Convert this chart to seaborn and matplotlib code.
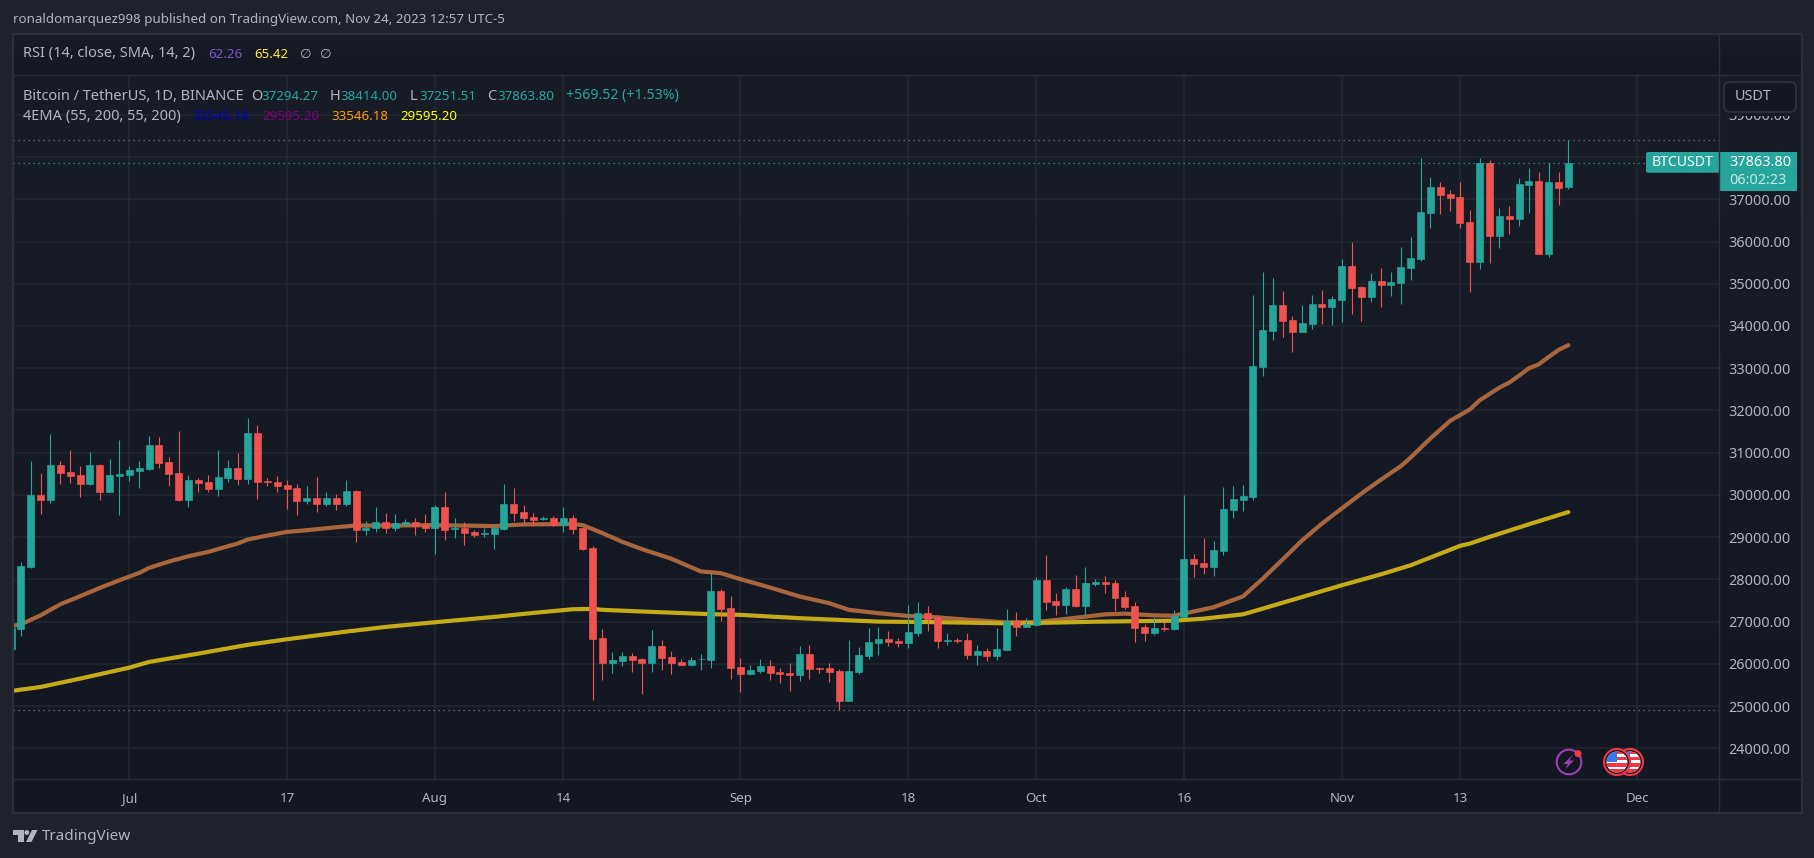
import matplotlib
matplotlib.use('Agg')
import matplotlib.pyplot as plt
import matplotlib.dates as mdates
from matplotlib.colors import LinearSegmentedColormap
from matplotlib.patches import Circle, FancyBboxPatch, Polygon, Rectangle
import numpy as np
import pandas as pd
import seaborn as sns

# daily candles, 19 Jun - 24 Nov 2023
first_day = '2023-06-19'
candle_open = [
    26340, 26818, 28287, 29993, 29875, 30705, 30539, 30467, 30254, 30705, 30065, 30444,
    30467, 30562, 30610, 31179, 30776, 30515, 29875, 30349, 30302, 30136, 30396, 30633, 30373, 31463, 30325, 30302,
    30230, 30159, 29851, 29922, 29780, 29922, 29780, 30088, 29164, 29211, 29354, 29211, 29306, 29354, 29282,
    29211, 29709, 29183, 29206, 29112, 29072, 29064, 29183, 29775, 29586, 29467, 29420, 29443, 29277, 29443, 29206,
    28732, 26623, 26031, 26078, 26197, 26125, 26031, 26434, 26173, 26054, 25983, 26110, 26102, 27713, 27311,
    25936, 25770, 25841, 25960, 25817, 25794, 25746, 26244, 25912, 25912, 25841, 25130, 25817, 26197, 26501,
    26595, 26548, 26501, 26738, 27212, 27117, 26548, 26572, 26572, 26216, 26311, 26193, 26335, 27022, 26880,
    26927, 27994, 27496, 27401, 27780, 27378, 27899, 27946, 27923, 27591, 27378, 26880, 26738, 26856, 26832,
    27117, 28491, 28397, 28302, 28681, 29653, 29890, 29960, 33031, 33884, 34500, 34145, 33860, 34050, 34524, 34453,
    34619, 35424, 34927, 34690, 35069, 34974, 35022, 35377, 35590, 36681, 37297, 37131, 37060, 36467, 35519,
    37866, 36136, 36610, 36538, 37344, 37439, 35709, 37415, 37294]
candle_high = [
    26860, 28406, 30799, 30515, 31439, 30799, 31060, 30681, 31013, 30728, 30847, 31297,
    30681, 30799, 31392, 31368, 30894, 31510, 30467, 30396, 30467, 31060, 30823, 30989, 31818, 31652, 30396, 30444,
    30349, 30254, 30207, 30420, 30065, 30017, 30349, 30112, 29377, 29709, 29567, 29543, 29425, 29448, 29543,
    29757, 30065, 29443, 29349, 29159, 29206, 29277, 30249, 30154, 29751, 29562, 29491, 29491, 29704, 29515, 29230,
    28780, 26836, 26291, 26291, 26268, 26149, 26813, 26576, 26315, 26125, 26173, 26244, 28140, 27761, 27595,
    26149, 25983, 26125, 26102, 25912, 26031, 26434, 26457, 25936, 26031, 25888, 26576, 26410, 26860, 26880,
    26785, 26619, 27401, 27472, 27378, 27164, 26738, 26619, 26738, 26453, 26382, 26856, 27306, 27235, 27093,
    28065, 28586, 27686, 27828, 28112, 28302, 28017, 28089, 27994, 27733, 27472, 26951, 27117, 26998, 27283,
    30008, 28610, 28989, 28918, 30198, 30210, 30245, 34737, 35282, 35140, 34832, 34240, 34500, 34737, 34856, 34713,
    35590, 35993, 34950, 35259, 35377, 35282, 35875, 36112, 37984, 37534, 37415, 37226, 37415, 36752, 37984,
    37937, 36799, 36846, 37510, 37747, 37652, 37866, 37652, 38414]
candle_low = [
    26260, 26652, 28271, 29543, 29804, 30254, 30278, 29946, 30230, 29875, 30065, 29520,
    30325, 30159, 30586, 30633, 30207, 29851, 29709, 30065, 30065, 29970, 30302, 30230, 30254, 29899, 30207, 30065,
    29662, 29520, 29780, 29591, 29733, 29638, 29733, 28880, 29046, 29117, 29093, 29140, 29282, 29046, 29117,
    28595, 28927, 28969, 28803, 28993, 28993, 28709, 29159, 29372, 29325, 29254, 29396, 29254, 29112, 29064, 28700,
    25154, 25628, 25794, 25960, 25817, 25296, 25817, 25865, 25770, 25975, 25960, 25865, 25912, 27026, 25651,
    25343, 25746, 25794, 25628, 25557, 25367, 25604, 25651, 25794, 25580, 24901, 25110, 25770, 26125, 26216,
    26430, 26406, 26382, 26667, 26785, 26382, 26453, 26501, 26121, 25979, 26074, 26098, 26335, 26667, 26880,
    26927, 27283, 27164, 27188, 27354, 27164, 27852, 27686, 27259, 27306, 26524, 26548, 26690, 26785, 26809,
    27117, 28065, 28136, 28089, 28586, 29463, 29629, 29890, 32817, 33671, 33742, 33386, 33860, 33931, 34050, 34026,
    34097, 34287, 34121, 34571, 34453, 34713, 34524, 35093, 35543, 36325, 36657, 36728, 36325, 34808, 35353,
    35496, 35851, 36183, 36373, 36681, 35709, 35638, 36870, 37252]
candle_close = [
    26840, 28311, 29993, 29875, 30705, 30515, 30444, 30254, 30705, 30065, 30467, 30491,
    30586, 30633, 31179, 30752, 30491, 29875, 30349, 30278, 30136, 30420, 30633, 30373, 31463, 30302, 30310, 30207,
    30136, 29851, 29922, 29780, 29922, 29780, 30088, 29164, 29227, 29354, 29211, 29330, 29354, 29259, 29211,
    29709, 29164, 29206, 29088, 29041, 29088, 29206, 29775, 29562, 29443, 29396, 29443, 29277, 29443, 29183, 28709,
    26599, 26031, 26102, 26197, 26102, 26031, 26434, 26149, 26031, 25983, 26102, 26125, 27713, 27287, 25912,
    25770, 25865, 25960, 25794, 25770, 25746, 26244, 25888, 25888, 25817, 25130, 25841, 26220, 26528, 26595,
    26524, 26501, 26761, 27212, 27069, 26548, 26572, 26548, 26216, 26311, 26193, 26358, 27022, 26880, 26951,
    27994, 27472, 27401, 27780, 27378, 27923, 27946, 27899, 27567, 27354, 26856, 26738, 26856, 26832, 27141,
    28491, 28373, 28302, 28705, 29676, 29913, 29985, 33054, 33908, 34500, 34121, 33860, 34074, 34524, 34453, 34642,
    35424, 34903, 34690, 35069, 34974, 35045, 35401, 35614, 36704, 37297, 37107, 37036, 36444, 35519, 37866,
    36136, 36610, 36538, 37368, 37439, 35709, 37415, 37273, 37864]

# the two averages, read at these dates only
ema55_dates = [
    '06-19', '06-20', '06-22', '06-24', '06-26', '06-28', '06-30', '07-02', '07-03', '07-05', '07-07', '07-09',
    '07-11', '07-12', '07-13', '07-15', '07-17', '07-19', '07-22', '07-24', '07-28', '08-01', '08-07', '08-10',
    '08-15', '08-16', '08-18', '08-20', '08-22', '08-25', '08-28', '08-30', '09-01', '09-04', '09-07', '09-10',
    '09-12', '09-15', '09-18', '09-20', '09-24', '09-28', '10-01', '10-03', '10-06', '10-08', '10-10', '10-13',
    '10-15', '10-17', '10-19', '10-22', '10-24', '10-26', '10-28', '10-30', '11-01', '11-03', '11-05', '11-07',
    '11-08', '11-10', '11-12', '11-14', '11-15', '11-17', '11-18', '11-19', '11-20', '11-21', '11-22', '11-23',
    '11-24']
ema55_values = [
    26889, 26936, 27149, 27410, 27600, 27797, 27979, 28153, 28271, 28421, 28548, 28650,
    28785, 28848, 28943, 29038, 29124, 29164, 29235, 29275, 29275, 29285, 29262, 29301,
    29309, 29285, 29096, 28890, 28717, 28488, 28187, 28148, 28006, 27808, 27595, 27437,
    27279, 27198, 27133, 27117, 27046, 26982, 26990, 27038, 27117, 27172, 27188, 27148,
    27141, 27240, 27340, 27600, 28018, 28469, 28927, 29322, 29678, 30033, 30365, 30681,
    30886, 31337, 31755, 32024, 32241, 32541, 32660, 32825, 33000, 33094, 33268, 33434,
    33546]
ema200_dates = [
    '06-19', '06-22', '06-26', '07-01', '07-03', '07-08', '07-13', '07-17', '07-23', '07-27', '08-01', '08-07',
    '08-11', '08-15', '08-17', '08-18', '08-22', '08-29', '09-01', '09-07', '09-15', '09-20', '09-28', '10-01',
    '10-07', '10-15', '10-18', '10-22', '10-24', '10-28', '11-01', '11-05', '11-08', '11-13', '11-14', '11-16',
    '11-20', '11-24']
ema200_values = [
    25357, 25452, 25650, 25910, 26045, 26242, 26450, 26582, 26763, 26874, 26985, 27111,
    27206, 27293, 27301, 27279, 27239, 27176, 27160, 27081, 27000, 26990, 26959, 26967,
    26998, 27022, 27070, 27173, 27308, 27584, 27860, 28121, 28334, 28793, 28848, 29006,
    29306, 29595]

price_ticks = list(range(24000, 40000, 1000))
grid_dates = ['2023-07-01', '2023-07-17', '2023-08-01', '2023-08-14', '2023-09-01', '2023-09-18',
              '2023-10-01', '2023-10-16', '2023-11-01', '2023-11-13', '2023-12-01']
grid_labels = ['Jul', '17', 'Aug', '14', 'Sep', '18', 'Oct', '16', 'Nov', '13', 'Dec']
last_close = 37863.80
visible_high = 38414
visible_low = 24901

W, H = 1814, 858
BG = '#1e222d'
LINE = '#2a2e39'
GRID = '#232732'
TEXT = '#b2b5be'
TEAL = '#26a69a'
RED = '#ef5350'
BROWN = '#a8663f'
YELLOW = '#c4ac18'

sns.set_theme(style='dark', rc={'axes.grid': False})
plt.rcParams['font.family'] = ['Noto Sans', 'DejaVu Sans']
FS = 9.6
FS_NAME = 10.5

df = pd.DataFrame({'open': candle_open, 'high': candle_high, 'low': candle_low, 'close': candle_close})
df['date'] = pd.date_range(first_day, periods=len(df), freq='D')
df['up'] = df['close'] >= df['open']
ema55 = pd.DataFrame({'date': pd.to_datetime(['2023-' + d for d in ema55_dates]), 'value': ema55_values})
ema200 = pd.DataFrame({'date': pd.to_datetime(['2023-' + d for d in ema200_dates]), 'value': ema200_values})

fig = plt.figure(figsize=(W / 100, H / 100), dpi=100, facecolor=BG)


def pane(left, top, right, bottom):
    return [left / W, 1 - bottom / H, (right - left) / W, (bottom - top) / H]


# background layer in pixel coordinates
back = fig.add_axes([0, 0, 1, 1], zorder=0)
back.set_xlim(0, W)
back.set_ylim(H, 0)
back.axis('off')
fade = LinearSegmentedColormap.from_list('fade', ['#181c27', '#131722'])
ramp = np.linspace(0, 1, 256).reshape(-1, 1)
back.imshow(ramp, cmap=fade, extent=(13, 1801, 779, 75), aspect='auto')
back.imshow(ramp, cmap=fade, extent=(13, 1801, 75, 34), aspect='auto')
back.add_patch(Rectangle((13, 779), 1788, 34, color='#131722', lw=0))
back.set_xlim(0, W)
back.set_ylim(H, 0)

# chart
ax = fig.add_axes(pane(13, 75.3, 1719, 779.3), zorder=1)
ax.patch.set_alpha(0)
for side in ax.spines.values():
    side.set_visible(False)

ax.hlines(price_ticks, mdates.date2num(pd.Timestamp('2023-06-01')), mdates.date2num(pd.Timestamp('2023-12-31')),
          color=GRID, lw=1.1, zorder=1)
ax.vlines(pd.to_datetime(grid_dates), 20000, 45000, color=GRID, lw=1.1, zorder=1)

sns.lineplot(data=ema55, x='date', y='value', color=BROWN, lw=3, ax=ax, zorder=2, solid_capstyle='round', errorbar=None)
sns.lineplot(data=ema200, x='date', y='value', color=YELLOW, lw=3, ax=ax, zorder=2.1, solid_capstyle='round', errorbar=None)

colors = np.where(df['up'], TEAL, RED)
ax.vlines(df['date'], df['low'], df['high'], colors=colors, lw=0.8, zorder=3)
ax.bar(df['date'], (df['close'] - df['open']).abs(), bottom=df[['open', 'close']].min(axis=1), width=0.71,
       color=colors, edgecolor=colors, linewidth=0.45, zorder=3.1)

line_style = (0, (1, 3))
ax.axhline(visible_high, color='#787b86', lw=0.9, ls=line_style, zorder=4)
ax.axhline(visible_low, color='#787b86', lw=0.9, ls=line_style, zorder=4)
ax.axhline(last_close, color=TEAL, lw=0.9, ls=line_style, zorder=4)

day_one = mdates.date2num(pd.Timestamp('2023-07-01'))
ax.set_xlim(day_one + (13 - 129.3) / 9.857, day_one + (1719 - 129.3) / 9.857)
ax.set_ylim(23266, 39936)
ax.set_xlabel('')
ax.set_ylabel('')

ax.yaxis.tick_right()
ax.set_yticks(price_ticks)
ax.set_yticklabels(['%.2f' % p for p in price_ticks])
ax.tick_params(axis='y', length=0, pad=7, labelsize=FS + 0.8, labelcolor=TEXT)
ax.set_xticks(pd.to_datetime(grid_dates))
ax.set_xticklabels(grid_labels)
ax.tick_params(axis='x', length=0, pad=9, labelsize=FS, labelcolor=TEXT)
for lab in ax.get_xticklabels():
    if not lab.get_text().isdigit():
        lab.set_fontweight('bold')

# frames, legend texts and badges, also in pixel coordinates
top = fig.add_axes([0, 0, 1, 1], zorder=2)
top.set_xlim(0, W)
top.set_ylim(H, 0)
top.axis('off')

top.add_patch(Rectangle((1720, 76), 80, 39.5, fc='#171b26', ec='none'))
top.add_patch(Rectangle((12.5, 33.5), 1789, 779.5, fill=False, ec=LINE, lw=1.6))
top.plot([1719, 1719], [34, 813], color=LINE, lw=1)
top.plot([13, 1801], [75.3, 75.3], color=LINE, lw=1)
top.plot([13, 1801], [779.3, 779.3], color=LINE, lw=1)


def label(x, y, text, color=TEXT, **kw):
    top.text(x, y, text, color=color, fontsize=kw.pop('fs', FS), va='center', ha='left', **kw)


label(13, 20, 'ronaldomarquez998 published on TradingView.com, Nov 24, 2023 12:57 UTC-5')

label(23, 54, 'RSI (14, close, SMA, 14, 2)', fs=FS_NAME)
label(208, 54, '62.26', '#7e57c2')
label(254, 54, '65.42', '#ffeb3b')
label(300, 54, '∅')
label(320, 54, '∅')

label(23, 96, 'Bitcoin / TetherUS, 1D, BINANCE', fs=FS_NAME)
for x_name, name, x_val, val in [(251, 'O', 261, '37294.27'), (330, 'H', 340, '38414.00'),
                                 (410, 'L', 419, '37251.51'), (487, 'C', 497, '37863.80')]:
    label(x_name, 96, name, fs=FS_NAME)
    label(x_val, 96, val, TEAL)
label(566, 96, '+569.52 (+1.53%)', TEAL, fs=10.2)

label(23, 116.7, '4EMA (55, 200, 55, 200)', fs=FS_NAME)
label(192, 116.7, '33546.18', '#0000c0')
label(262, 116.7, '29595.20', '#800080')
label(331, 116.7, '33546.18', '#ff9800')
label(400, 116.7, '29595.20', '#ffff00')

# USDT button
top.add_patch(FancyBboxPatch((1724, 82), 72, 30, boxstyle='round,pad=0,rounding_size=6', fc='#131722', ec=LINE, lw=1.5))
label(1735, 97, 'USDT', fs=FS + 0.8)

# last price badge
top.add_patch(FancyBboxPatch((1646, 152), 80, 20.7, boxstyle='round,pad=0,rounding_size=2', fc=TEAL, ec='none'))
top.add_patch(Rectangle((1719, 152), 78, 38.7, fc=TEAL, ec='none'))
label(1652, 162.4, 'BTCUSDT', 'white', fs=FS + 0.5)
label(1729, 162.4, '37863.80', 'white', fs=FS + 0.8)
label(1729, 181, '06:02:23', '#c9e9e6', fs=FS + 0.8)

# events icons
top.add_patch(Circle((1569, 762), 12.3, fill=False, ec='#9c3fb5', lw=1.5))
top.add_patch(Polygon([(1572.5, 755), (1563.5, 764), (1568, 764), (1565, 769.5), (1574, 760.5), (1569.5, 760.5)],
                      fc='#9c3fb5', ec='none'))
top.add_patch(Circle((1578, 753.6), 3.5, fc='#f23645', ec='none'))
for cx in [1630, 1617]:
    edge = Circle((cx, 762), 13, fc='#131722', ec='#f23645', lw=1.5)
    top.add_patch(edge)
    face = Circle((cx, 762), 10.5, fc='white', ec='none')
    top.add_patch(face)
    for sy in [752, 758.5, 765, 771]:
        stripe = top.add_patch(Rectangle((cx - 12, sy - 1.6), 24, 3.2, fc='#f23645', ec='none'))
        stripe.set_clip_path(face)
    canton = top.add_patch(Rectangle((cx - 11, 751), 11, 11, fc='#2e7bea', ec='none'))
    canton.set_clip_path(face)

# TradingView logo
top.add_patch(Polygon([(13, 830), (23.5, 830), (23.5, 842), (18, 842), (18, 835), (13, 835)], fc=TEXT, ec='none'))
top.add_patch(Circle((26.8, 832.5), 2.4, fc=TEXT, ec='none'))
top.add_patch(Polygon([(32, 830), (37.5, 830), (31.5, 842), (26, 842)], fc=TEXT, ec='none'))
label(42, 836.5, 'TradingView', fs=11)

plt.savefig('out.png', dpi=100, facecolor=BG)
